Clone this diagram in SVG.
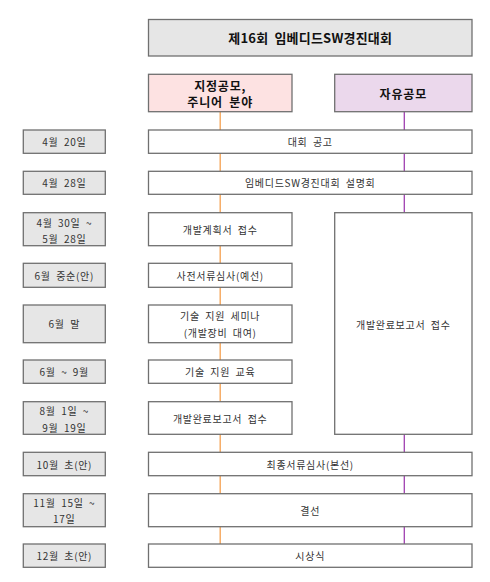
<svg xmlns="http://www.w3.org/2000/svg" width="490" height="582" viewBox="0 0 490 582">
<style>
  .box{fill:#ffffff;stroke:#707070;stroke-width:1.3}
  .date{fill:#e6e6e6;stroke:#707070;stroke-width:1.3}
  .title{fill:#e6e6e6;stroke:#707070;stroke-width:1.3}
  .pink{fill:#fde2e2;stroke:#707070;stroke-width:1.3}
  .purple{fill:#ebd8ec;stroke:#707070;stroke-width:1.3}
  text{font-family:"Noto Sans CJK KR","Noto Sans",sans-serif;fill:#333333;font-size:10px;letter-spacing:0.7px;word-spacing:2.5px;text-anchor:middle;dominant-baseline:central}
  .tt{font-size:13px;font-weight:bold;fill:#111111;letter-spacing:0.2px;word-spacing:3px}
  .hd{font-size:12px;font-weight:bold;fill:#111111;letter-spacing:0.8px;word-spacing:3px}
  .orange{stroke:#f5a050;stroke-width:1.3;fill:none}
  .violet{stroke:#a040b0;stroke-width:1.3;fill:none}
</style>
<rect width="490" height="582" fill="#ffffff"/>
<g id="connectors">
  <line class="orange" x1="220.2" y1="111.7" x2="220.2" y2="544"/>
  <line class="violet" x1="404.3" y1="111.7" x2="404.3" y2="544"/>
</g>
<g id="title"><rect class="title" x="148.5" y="19.5" width="323.5" height="36.5"/><text class="tt" x="310.2" y="37.8">제16회 임베디드SW경진대회</text></g>
<g id="header-designated"><rect class="pink" x="148.5" y="74.3" width="143.5" height="37.4"/><text class="hd" x="220.2" y="85">지정공모,</text><text class="hd" x="220.2" y="101.7">주니어 분야</text></g>
<g id="header-free"><rect class="purple" x="334.7" y="74.3" width="137.3" height="37.4"/><text class="hd" x="403.3" y="93">자유공모</text></g>

<g id="d1"><rect class="date" x="23.3" y="130" width="82" height="23.3"/><text x="64.3" y="141.7">4월 20일</text></g>
<g id="n1"><rect class="box" x="148.5" y="130" width="323.5" height="23.3"/><text x="310.2" y="141.7">대회 공고</text></g>

<g id="d2"><rect class="date" x="23.3" y="171.3" width="82" height="23"/><text x="64.3" y="182.8">4월 28일</text></g>
<g id="n2"><rect class="box" x="148.5" y="171.3" width="323.5" height="23"/><text x="310.2" y="182.8">임베디드SW경진대회 설명회</text></g>

<g id="d3"><rect class="date" x="23.3" y="212.7" width="82" height="33"/><text x="64.3" y="222">4월 30일 ~</text><text x="64.3" y="238.3">5월 28일</text></g>
<g id="n3"><rect class="box" x="148.5" y="212.7" width="143.5" height="33"/><text x="220.2" y="229.2">개발계획서 접수</text></g>
<g id="n3r"><rect class="box" x="334.7" y="212.7" width="137.3" height="221.6"/><text x="403.3" y="324">개발완료보고서 접수</text></g>

<g id="d4"><rect class="date" x="23.3" y="263.3" width="82" height="24"/><text x="64.3" y="275.3">6월 중순(안)</text></g>
<g id="n4"><rect class="box" x="148.5" y="263.3" width="143.5" height="24"/><text x="220.2" y="275.3">사전서류심사(예선)</text></g>

<g id="d5"><rect class="date" x="23.3" y="305" width="82" height="37.7"/><text x="64.3" y="323.8">6월 말</text></g>
<g id="n5"><rect class="box" x="148.5" y="305" width="143.5" height="37.7"/><text x="220.2" y="315.7">기술 지원 세미나</text><text x="220.2" y="332">(개발장비 대여)</text></g>

<g id="d6"><rect class="date" x="23.3" y="360" width="82" height="23.3"/><text x="64.3" y="371.7">6월 ~ 9월</text></g>
<g id="n6"><rect class="box" x="148.5" y="360" width="143.5" height="23.3"/><text x="220.2" y="371.7">기술 지원 교육</text></g>

<g id="d7"><rect class="date" x="23.3" y="401.7" width="82" height="32.6"/><text x="64.3" y="410.7">8월 1일 ~</text><text x="64.3" y="427.3">9월 19일</text></g>
<g id="n7"><rect class="box" x="148.5" y="401.7" width="143.5" height="32.6"/><text x="220.2" y="418">개발완료보고서 접수</text></g>

<g id="d8"><rect class="date" x="23.3" y="452.3" width="82" height="23.4"/><text x="64.3" y="464">10월 초(안)</text></g>
<g id="n8"><rect class="box" x="148.5" y="452.3" width="323.5" height="23.4"/><text x="310.2" y="464">최종서류심사(본선)</text></g>

<g id="d9"><rect class="date" x="23.3" y="493.7" width="82" height="33"/><text x="64.3" y="502.3">11월 15일 ~</text><text x="64.3" y="518.3">17일</text></g>
<g id="n9"><rect class="box" x="148.5" y="493.7" width="323.5" height="33"/><text x="310.2" y="510.2">결선</text></g>

<g id="d10"><rect class="date" x="23.3" y="544" width="82" height="23.3"/><text x="64.3" y="555.7">12월 초(안)</text></g>
<g id="n10"><rect class="box" x="148.5" y="544" width="323.5" height="23.3"/><text x="310.2" y="555.7">시상식</text></g>
</svg>
